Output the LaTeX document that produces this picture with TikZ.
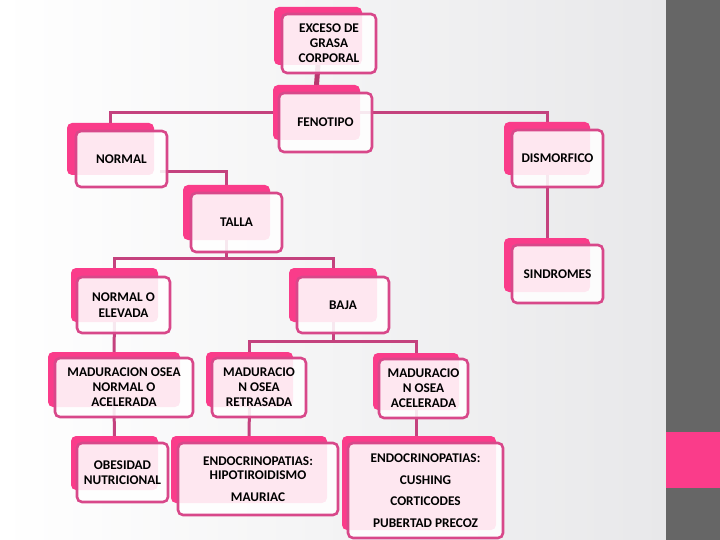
\documentclass[tikz,border=0pt]{standalone}
\usepackage{fontspec}
\setmainfont{Carlito}
\definecolor{hotpink}{HTML}{FA3C8A}
\definecolor{bordpink}{HTML}{D8488A}
\definecolor{linepink}{HTML}{C4427E}
\definecolor{stubpink}{HTML}{B8386F}
\definecolor{bargray}{HTML}{666666}
\definecolor{bgright}{HTML}{E8E8EA}
\tikzset{
  backbox/.style={fill=hotpink, rounded corners=5pt, inner sep=0pt, outer sep=0pt},
  frontbox/.style={draw=bordpink, line width=2.6pt, fill=white, fill opacity=0.88, text opacity=1,
     rounded corners=5pt, inner sep=0pt, outer sep=0pt, align=center,
     font=\fontsize{13.3}{15}\selectfont\bfseries},
  conn/.style={draw=linepink, line width=3pt},
  connthick/.style={draw=stubpink, line width=5pt}
}
\pgfdeclarelayer{connlayer}
\pgfdeclarelayer{bglayer}
\pgfsetlayers{bglayer,connlayer,main}
\begin{document}
\begin{tikzpicture}[x=1pt,y=-1pt]
\useasboundingbox (0,0) rectangle (720,540);
\begin{pgfonlayer}{bglayer}
\shade[left color=white, right color=bgright] (0,0) rectangle (666,540);
\fill[bargray] (666,0) rectangle (720,540);
\fill[hotpink] (666,432) rectangle (720,488);
\end{pgfonlayer}

% boxes: back then front
\node[backbox, minimum width=88pt, minimum height=58pt] (exceso-b) at (318,36) {};
\node[frontbox, minimum width=94pt, minimum height=59pt] (exceso) at (329,43.5) {EXCESO DE\\GRASA\\CORPORAL};

\node[backbox, minimum width=87pt, minimum height=55pt] (fenotipo-b) at (316.5,112.5) {};
\node[frontbox, minimum width=93pt, minimum height=59pt] (fenotipo) at (325.5,122.5) {FENOTIPO};

\node[backbox, minimum width=87pt, minimum height=52pt] (normal-b) at (110.5,149) {};
\node[frontbox, minimum width=91pt, minimum height=56pt] (normal) at (121.5,159) {NORMAL};

\node[backbox, minimum width=86pt, minimum height=53pt] (dismorfico-b) at (547,148.5) {};
\node[frontbox, minimum width=91pt, minimum height=57pt] (dismorfico) at (557.5,158.5) {DISMORFICO};

\node[backbox, minimum width=86pt, minimum height=54pt] (sindromes-b) at (547,265) {};
\node[frontbox, minimum width=91pt, minimum height=58pt] (sindromes) at (557.5,274) {SINDROMES};

\node[backbox, minimum width=87pt, minimum height=55pt] (talla-b) at (226.5,212.5) {};
\node[frontbox, minimum width=91pt, minimum height=59pt] (talla) at (236.5,222.5) {TALLA};

\node[backbox, minimum width=87pt, minimum height=54pt] (noe-b) at (114.5,295) {};
\node[frontbox, minimum width=93pt, minimum height=56pt, font=\fontsize{13.3}{16}\selectfont\bfseries] (noe) at (123.5,305) {NORMAL O\\ELEVADA};

\node[backbox, minimum width=88pt, minimum height=54pt] (baja-b) at (333,295) {};
\node[frontbox, minimum width=92pt, minimum height=56pt] (baja) at (343,305) {BAJA};

\node[backbox, minimum width=132pt, minimum height=55pt] (mn-b) at (114,379.5) {};
\node[frontbox, minimum width=138pt, minimum height=59pt] (mn) at (124,387.5) {MADURACION OSEA\\NORMAL O\\ACELERADA};

\node[backbox, minimum width=87pt, minimum height=55pt] (ret-b) at (249.5,379.5) {};
\node[frontbox, minimum width=94pt, minimum height=59pt] (ret) at (259,387.5) {MADURACIO\\N OSEA\\RETRASADA};

\node[backbox, minimum width=86pt, minimum height=57pt] (acel-b) at (416,381.5) {};
\node[frontbox, minimum width=89pt, minimum height=59pt] (acel) at (423.5,388.5) {MADURACIO\\N OSEA\\ACELERADA};

\node[backbox, minimum width=87pt, minimum height=54pt] (obes-b) at (114.5,463) {};
\node[frontbox, minimum width=91pt, minimum height=59pt] (obes) at (122.5,472.5) {OBESIDAD\\NUTRICIONAL};

\node[backbox, minimum width=156pt, minimum height=67pt] (endo1-b) at (249,469.5) {};
\node[frontbox, minimum width=160pt, minimum height=72pt, font=\fontsize{13.3}{14}\selectfont\bfseries] (endo1) at (258,479) {ENDOCRINOPATIAS:\\HIPOTIROIDISMO\\[8pt]MAURIAC};

\node[backbox, minimum width=154pt, minimum height=94pt] (endo2-b) at (419,483) {};
\node[frontbox, minimum width=155pt, minimum height=95pt, font=\fontsize{13.3}{21.5}\selectfont\bfseries] (endo2) at (425.5,490.5) {ENDOCRINOPATIAS:\\CUSHING\\CORTICODES\\PUBERTAD PRECOZ};

% connectors
\begin{pgfonlayer}{connlayer}
\coordinate (j1) at (330,113);
\coordinate (j3) at (226.5,258);
\coordinate (j4) at (333,341);
\draw[connthick] (exceso-b.south) -- (fenotipo-b.north);
\draw[conn] (normal-b.north) |- (j1) -| (dismorfico-b.north);
\draw[conn] (dismorfico-b.south) -- (sindromes-b.north);
\draw[conn] ([xshift=-7pt,yshift=-13pt]normal.east) -| (talla-b.north);
\draw[conn] (talla-b.south) -- (j3);
\draw[conn] (noe-b.north) |- (j3) -| (baja-b.north);
\draw[conn] (noe-b.south) -- (mn-b.north);
\draw[conn] (baja-b.south) -- (j4);
\draw[conn] (ret-b.north) |- (j4) -| (acel-b.north);
\draw[conn] (mn-b.south) -- (obes-b.north);
\draw[conn] (ret-b.south) -- (endo1-b.north);
\draw[conn] (acel-b.south) -- (acel-b.south |- endo2-b.north);
\end{pgfonlayer}
\end{tikzpicture}
\end{document}
